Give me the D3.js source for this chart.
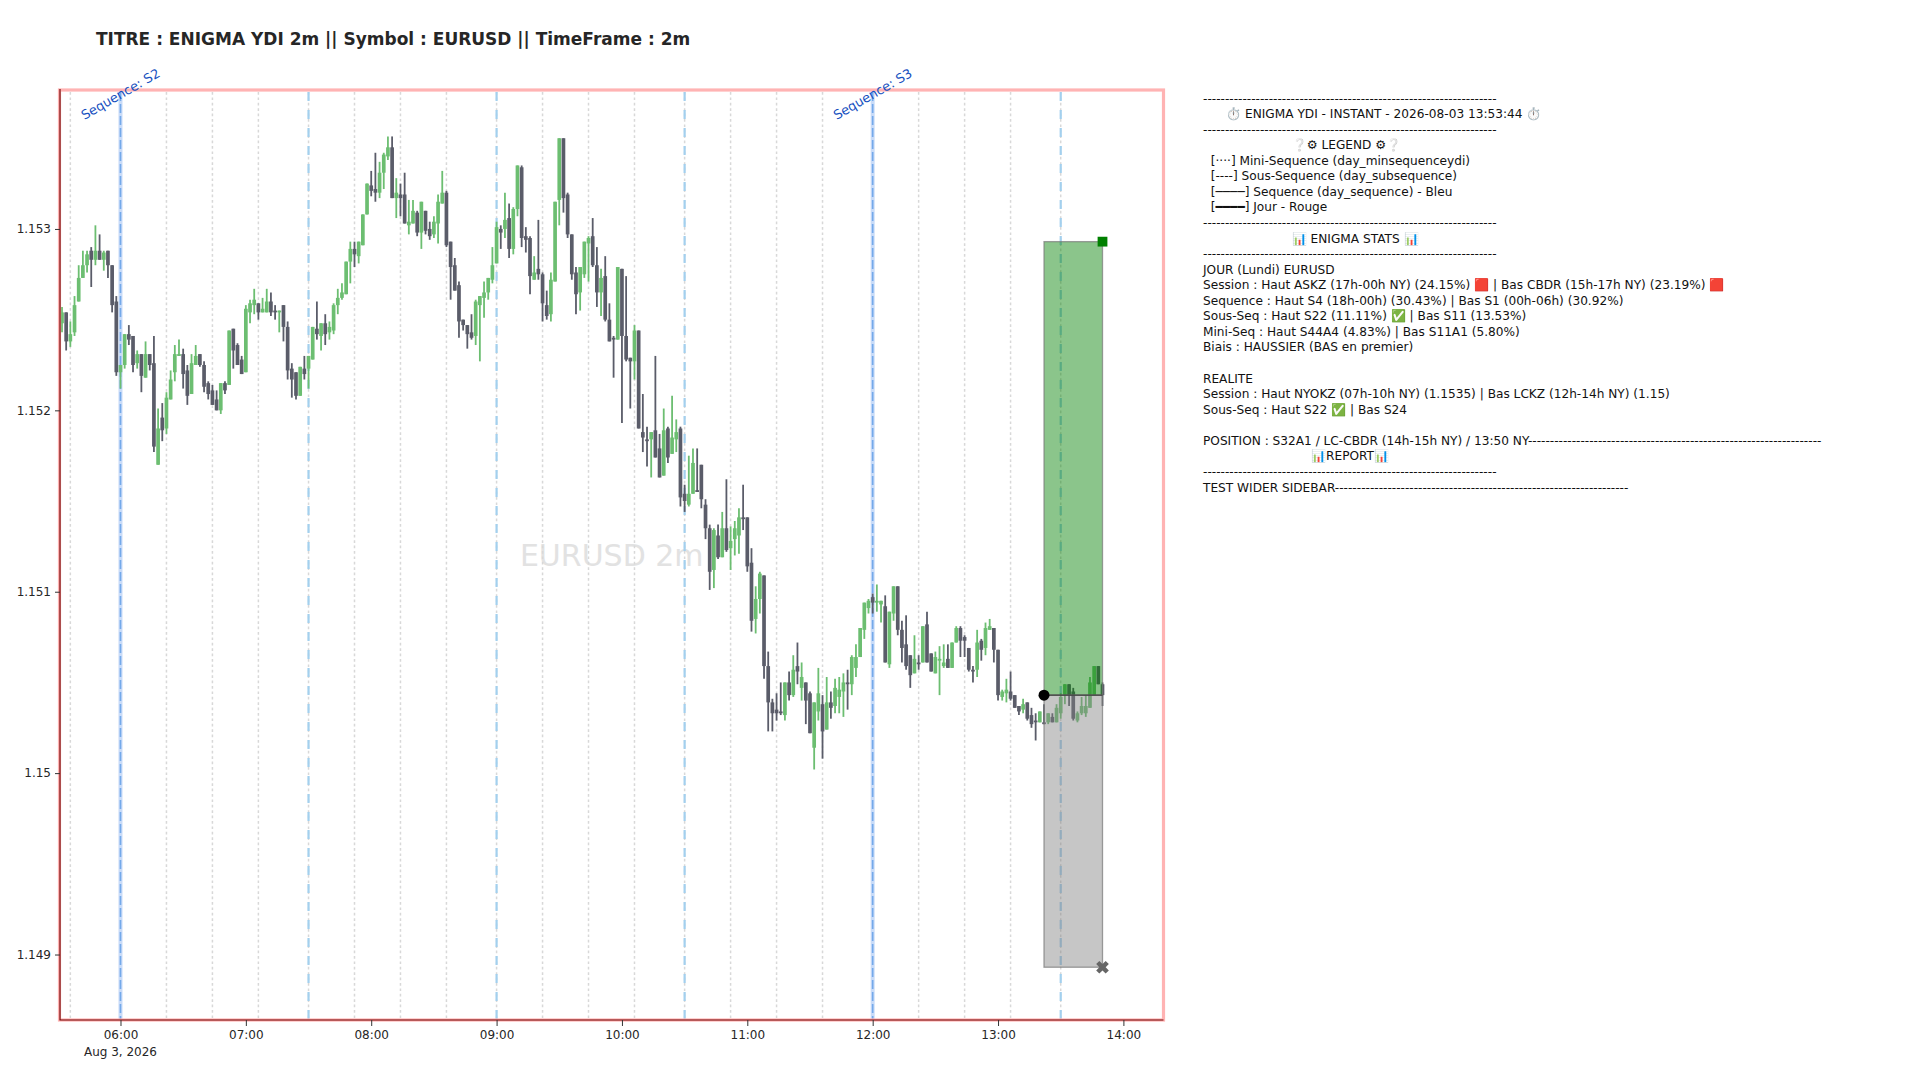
<!DOCTYPE html>
<html><head><meta charset="utf-8">
<script src="https://d3js.org/d3.v7.min.js"></script>
<style>html,body{margin:0;background:#fff}svg{display:block}text{font-family:"DejaVu Sans",sans-serif}</style>
</head><body><svg id="c" width="1920" height="1080"></svg>
<script>
// Candles: 2-minute bars from 05:32 to 13:50, prices in 1e-5 units
const firstBar = "2026-08-03T05:32:00Z";
const opens = [115248,115254,115238,115243,115260,115273,115280,115288,115283,115288,115283,115288,115280,115260,
115221,115225,115242,115241,115226,115231,115218,115231,115226,115170,
115196,115190,115206,115221,115230,115231,115222,115209,115225,115231,
115225,115215,115211,115206,115200,115215,115214,115245,115236,115228,
115221,115254,115258,115259,115254,115254,115260,115255,115254,115258,
115246,115223,115221,115208,115223,115223,115228,115245,115241,115248,
115243,115244,115258,115262,115264,115282,115289,115285,115291,115308,
115324,115322,115320,115331,115340,115345,115317,115319,115319,115302,
115303,115309,115298,115310,115300,115297,115303,115314,115320,115293,
115280,115269,115250,115247,115243,115241,115258,115262,115265,115272,
115281,115300,115300,115306,115289,115311,115334,115296,115295,115272,
115278,115275,115258,115253,115271,115316,115350,115319,115297,115276,
115265,115275,115292,115296,115280,115265,115274,115250,115240,115239,
115278,115241,115229,115227,115244,115188,115184,115184,115189,115179,
115164,115190,115176,115184,115190,115154,115148,115154,115156,115170,
115148,115135,115112,115131,115119,115135,115124,115129,115131,115141,
115141,115116,115085,115096,115109,115059,115039,115035,115034,115032,
115050,115043,115059,115047,115050,115044,115014,115034,115038,115024,
115039,115037,115042,115045,115050,115049,115058,115064,115079,115091,
115097,115094,115093,115092,115060,115088,115103,115079,115071,115065,
115055,115061,115061,115082,115066,115055,115062,115059,115063,115058,
115072,115080,115075,115069,115057,115057,115073,115069,115079,115080,
115068,115042,115044,115045,115043,115037,115035,115039,115032,115029,
115028,115028,115028,115031,115028,115033,115043,115049,115045,115029,
115033,115033,115036,115043,115059,115049];
const highs = [115257,115254,115249,115263,115280,115288,115288,115290,115302,115297,115288,115288,115280,115263,
115225,115242,115247,115241,115233,115231,115238,115231,115241,115201,
115204,115210,115222,115236,115239,115234,115225,115231,115236,115231,
115227,115216,115214,115211,115215,115216,115244,115245,115237,115230,
115258,115261,115267,115259,115262,115267,115265,115258,115255,115258,
115249,115226,115221,115224,115230,115230,115246,115260,115248,115253,
115249,115259,115267,115270,115282,115293,115293,115293,115308,115325,
115332,115342,115337,115342,115351,115351,115328,115325,115331,115316,
115316,115310,115315,115310,115304,115307,115319,115332,115321,115293,
115284,115271,115250,115247,115253,115261,115263,115271,115273,115290,
115304,115302,115320,115314,115312,115335,115335,115301,115296,115285,
115305,115276,115266,115276,115315,115350,115350,115320,115297,115279,
115279,115293,115296,115306,115290,115278,115285,115259,115241,115279,
115278,115274,115229,115247,115244,115209,115191,115188,115230,115187,
115201,115191,115208,115195,115191,115159,115175,115179,115179,115170,
115151,115137,115135,115137,115144,115162,115136,115139,115146,115159,
115141,115124,115103,115111,115109,115067,115041,115044,115050,115050,
115056,115065,115072,115061,115050,115045,115039,115058,115043,115053,
115045,115052,115053,115055,115057,115065,115071,115080,115094,115096,
115099,115104,115095,115098,115089,115103,115103,115084,115087,115065,
115076,115065,115081,115089,115066,115067,115070,115071,115071,115072,
115081,115081,115076,115069,115059,115079,115074,115083,115085,115080,
115068,115046,115052,115056,115043,115037,115041,115039,115036,115033,
115034,115038,115033,115033,115038,115044,115049,115049,115047,115034,
115042,115043,115053,115059,115059,115050];
const lows = [115243,115233,115235,115241,115260,115273,115276,115268,115280,115283,115277,115273,115254,115219,
115212,115223,115236,115221,115223,115210,115218,115222,115177,115170,
115183,115187,115206,115216,115230,115212,115203,115209,115225,115224,
115210,115206,115203,115200,115198,115209,115214,115223,115225,115220,
115221,115248,115253,115250,115254,115254,115252,115250,115243,115238,
115217,115207,115206,115208,115217,115212,115228,115239,115233,115236,
115239,115242,115253,115261,115264,115270,115279,115281,115291,115308,
115318,115315,115317,115322,115338,115317,115306,115307,115303,115297,
115303,115296,115289,115297,115294,115295,115292,115314,115290,115261,
115266,115240,115244,115234,115239,115236,115227,115251,115261,115270,
115281,115289,115295,115284,115286,115307,115290,115287,115264,115272,
115272,115249,115250,115249,115271,115302,115309,115295,115272,115253,
115255,115273,115271,115279,115257,115252,115249,115238,115218,115239,
115193,115227,115201,115217,115190,115177,115169,115163,115174,115163,
115164,115171,115176,115177,115147,115144,115147,115154,115155,115146,
115129,115101,115102,115118,115119,115122,115112,115120,115121,115134,
115111,115078,115077,115088,115052,115023,115023,115029,115032,115029,
115040,115042,115049,115040,115027,115022,115002,115029,115008,115024,
115030,115033,115033,115031,115035,115043,115053,115064,115074,115088,
115088,115089,115083,115061,115058,115084,115076,115061,115057,115047,
115055,115057,115061,115061,115056,115055,115043,115058,115058,115058,
115072,115064,115064,115056,115050,115053,115062,115065,115079,115061,
115040,115040,115039,115040,115036,115032,115033,115029,115025,115018,
115028,115027,115027,115028,115028,115030,115038,115037,115029,115028,
115032,115031,115036,115043,115049,115037];
const closes = [115254,115238,115242,115258,115273,115280,115286,115283,115288,115283,115287,115280,115258,115221,
115225,115242,115239,115225,115231,115219,115231,115225,115180,115190,
115189,115207,115217,115231,115231,115220,115208,115226,115230,115225,
115213,115209,115203,115200,115215,115211,115244,115233,115225,115220,
115256,115259,115261,115254,115256,115260,115254,115254,115255,115246,
115222,115217,115208,115224,115220,115230,115246,115242,115248,115242,
115246,115258,115262,115265,115282,115289,115286,115293,115308,115325,
115321,115320,115331,115341,115345,115317,115320,115317,115303,115304,
115310,115298,115315,115299,115296,115304,115315,115320,115291,115279,
115266,115249,115247,115242,115240,115260,115263,115265,115273,115280,
115301,115298,115305,115289,115311,115335,115295,115294,115274,115276,
115275,115259,115252,115272,115315,115350,115317,115297,115275,115264,
115279,115293,115295,115280,115265,115273,115250,115238,115239,115279,
115241,115228,115227,115244,115190,115185,115183,115188,115174,115163,
115189,115174,115185,115188,115152,115150,115154,115171,115155,115151,
115135,115111,115134,115119,115135,115123,115128,115135,115141,115140,
115114,115084,115096,115110,115059,115039,115033,115033,115033,115050,
115043,115057,115056,115053,115040,115022,115039,115044,115023,115039,
115036,115047,115046,115050,115049,115064,115064,115080,115094,115095,
115094,115095,115095,115061,115089,115103,115079,115069,115059,115054,
115063,115060,115081,115061,115056,115064,115063,115061,115058,115072,
115080,115073,115073,115057,115056,115072,115068,115080,115081,115068,
115043,115045,115046,115041,115036,115034,115038,115030,115027,115028,
115034,115027,115033,115028,115036,115042,115049,115043,115030,115033,
115037,115037,115050,115059,115049,115043];

const xTickLabels = ["06:00","07:00","08:00","09:00","10:00","11:00","12:00","13:00","14:00"];
const yTicks = [1.149,1.150,1.151,1.152,1.153];
const sequenceTimes = ["06:00","12:00"];
const sequenceLabels = ["Sequence: S2","Sequence: S3"];
const subSequenceTimes = ["07:30","09:00","10:30","13:30"];
const miniSequenceTimes = ["05:36","06:22","06:44","07:06","07:52","08:14","08:36","09:22","09:44","10:06","10:52","11:14","11:36","12:22","12:44","13:06"];
const tradeTimes = ["13:22","13:50"];
const takeProfit = 1.15293, entry = 1.15043, stopLoss = 1.14893;

const RULE = "-".repeat(67);
const sidebarLines = [
RULE,
"      ⏱️ ENIGMA YDI - INSTANT - 2026-08-03 13:53:44 ⏱️",
RULE,
"                       ❔⚙ LEGEND ⚙❔",
"  [····] Mini-Sequence (day_minsequenceydi)",
"  [----] Sous-Sequence (day_subsequence)",
"  [────] Sequence (day_sequence) - Bleu",
"  [━━━━] Jour - Rouge",
RULE,
"                       📊 ENIGMA STATS 📊",
RULE,
"JOUR (Lundi) EURUSD",
"Session : Haut ASKZ (17h-00h NY) (24.15%) 🟥 | Bas CBDR (15h-17h NY) (23.19%) 🟥",
"Sequence : Haut S4 (18h-00h) (30.43%) | Bas S1 (00h-06h) (30.92%)",
"Sous-Seq : Haut S22 (11.11%) ✅ | Bas S11 (13.53%)",
"Mini-Seq : Haut S44A4 (4.83%) | Bas S11A1 (5.80%)",
"Biais : HAUSSIER (BAS en premier)",
"",
"REALITE",
"Session : Haut NYOKZ (07h-10h NY) (1.1535) | Bas LCKZ (12h-14h NY) (1.15)",
"Sous-Seq : Haut S22 ✅ | Bas S24",
"",
"POSITION : S32A1 / LC-CBDR (14h-15h NY) / 13:50 NY" + RULE,
"                            📊REPORT📊",
RULE,
"TEST WIDER SIDEBAR" + RULE
];

const L=60,R=1163.5,T=90,B=1020;
const at = s => new Date("2026-08-03T"+s+":00Z");
const x = d3.scaleUtc().domain([new Date("2026-08-03T05:31:03Z"),new Date("2026-08-03T14:19:00Z")]).range([L,R-0.4]);
const y = d3.scaleLinear().domain([1.148639,1.153766]).range([B,T]);
const bars = closes.map((c,i)=>({t:d3.utcMinute.offset(new Date(firstBar),2*i),o:opens[i]/1e5,h:highs[i]/1e5,l:lows[i]/1e5,c:c/1e5}));

const svg = d3.select("#c");
svg.append("text").attr("x",96).attr("y",45).attr("font-size",17).attr("font-weight","bold").attr("fill","#262626")
  .text("TITRE : ENIGMA YDI 2m || Symbol : EURUSD || TimeFrame : 2m");

svg.append("text").attr("x",(L+R)/2).attr("y",(T+B)/2).attr("text-anchor","middle").attr("dominant-baseline","central")
  .attr("font-size",30).attr("fill","#e2e2e2").text("EURUSD 2m");

const V = svg.append("g");
const vline = list=>V.append("g").selectAll("line").data(list).join("line")
  .attr("x1",d=>x(at(d))).attr("x2",d=>x(at(d))).attr("y1",T+2).attr("y2",B);
vline(miniSequenceTimes.concat(subSequenceTimes,sequenceTimes)).attr("stroke","#d8d8d8").attr("stroke-width",1.5).attr("stroke-dasharray","2.7,2.7");
vline(subSequenceTimes).attr("stroke","#a3d0ee").attr("stroke-width",2.2).attr("stroke-dasharray","9,9");
vline(sequenceTimes).attr("stroke","#c8dbf8").attr("stroke-width",4);
vline(sequenceTimes).attr("stroke","#74a9ea").attr("stroke-width",1.6).attr("stroke-dasharray","9,3");

const G = svg.append("g");
const up="#6cbe71", dn="#5a5c69";
G.selectAll("line").data(bars).join("line")
  .attr("x1",d=>x(d.t)).attr("x2",d=>x(d.t)).attr("y1",d=>y(d.h)).attr("y2",d=>y(d.l))
  .attr("stroke",d=>d.c>=d.o?up:dn).attr("stroke-width",1.8);
G.selectAll("rect").data(bars).join("rect")
  .attr("x",d=>x(d.t)-1.85).attr("width",3.7)
  .attr("y",d=>y(Math.max(d.o,d.c))).attr("height",d=>Math.max(1,Math.abs(y(d.o)-y(d.c))))
  .attr("fill",d=>d.c>=d.o?up:dn);

// Trade box
const x0=x(at(tradeTimes[0])), x1=x(at(tradeTimes[1]));
const Box = svg.append("g");
Box.append("rect").attr("x",x0).attr("width",x1-x0).attr("y",y(takeProfit)).attr("height",y(entry)-y(takeProfit))
  .attr("fill","rgb(0,128,0)").attr("fill-opacity",.455).attr("stroke","#777").attr("stroke-opacity",.7).attr("stroke-width",1.3);
Box.append("rect").attr("x",x0).attr("width",x1-x0).attr("y",y(entry)).attr("height",y(stopLoss)-y(entry))
  .attr("fill","rgb(128,128,128)").attr("fill-opacity",.45).attr("stroke","#777").attr("stroke-opacity",.7).attr("stroke-width",1.3);
Box.append("line").attr("x1",x0).attr("x2",x1).attr("y1",y(entry)).attr("y2",y(entry)).attr("stroke","#333").attr("stroke-width",1);
Box.append("circle").attr("cx",x0).attr("cy",y(entry)).attr("r",5.5).attr("fill","#000");
Box.append("path").attr("d",d3.symbol(d3.symbolSquare,96)()).attr("transform",`translate(${x1},${y(takeProfit)})`).attr("fill","#008000");
Box.append("path").attr("d",d3.symbol(d3.symbolCross,100)()).attr("transform",`translate(${x1},${y(stopLoss)}) rotate(45)`).attr("fill","#666");

// Frame
const F = svg.append("g").attr("fill","none");
F.append("rect").attr("x",L-.5).attr("y",T).attr("width",R-L+.5).attr("height",B-T).attr("stroke","#ffb3b3").attr("stroke-width",3.2);
F.append("path").attr("d",`M${L},${T-1}V${B}H${R}`).attr("stroke","#700000").attr("stroke-width",1.15);

// Axes
const xa = svg.append("g").attr("transform",`translate(0,${B})`)
  .call(d3.axisBottom(x).tickValues(xTickLabels.map(at)).tickFormat(d3.utcFormat("%H:%M")).tickSize(6).tickPadding(4));
const ya = svg.append("g").attr("transform",`translate(${L},0)`)
  .call(d3.axisLeft(y).tickValues(yTicks).tickFormat(d=>d3.format(".3f")(d).replace(/0+$/,"").replace(/\.$/,"")).tickSize(5).tickPadding(4));
[xa,ya].forEach(a=>{a.select(".domain").remove();a.selectAll("text").attr("font-size",12).attr("fill","#262626").style("font-family",'"DejaVu Sans"');a.selectAll("line").attr("stroke","#333");});
svg.append("text").attr("x",x(at("06:00"))).attr("y",1056).attr("text-anchor","middle").attr("font-size",12).attr("fill","#262626").text("Aug 3, 2026");

// Sequence labels
svg.append("g").selectAll("text").data(sequenceTimes).join("text")
  .attr("transform",d=>`translate(${x(at(d))},94) rotate(-30)`)
  .attr("text-anchor","middle").attr("dominant-baseline","central").attr("font-size",12.9).attr("fill","#1650c0")
  .text((d,i)=>sequenceLabels[i]);

// Sidebar
svg.append("g").selectAll("text").data(sidebarLines).join("text")
  .attr("x",1203).attr("y",(d,i)=>102.5+i*15.56).attr("font-size",12.15).attr("fill","#111")
  .style("white-space","pre").attr("xml:space","preserve").text(d=>d);
</script></body></html>
